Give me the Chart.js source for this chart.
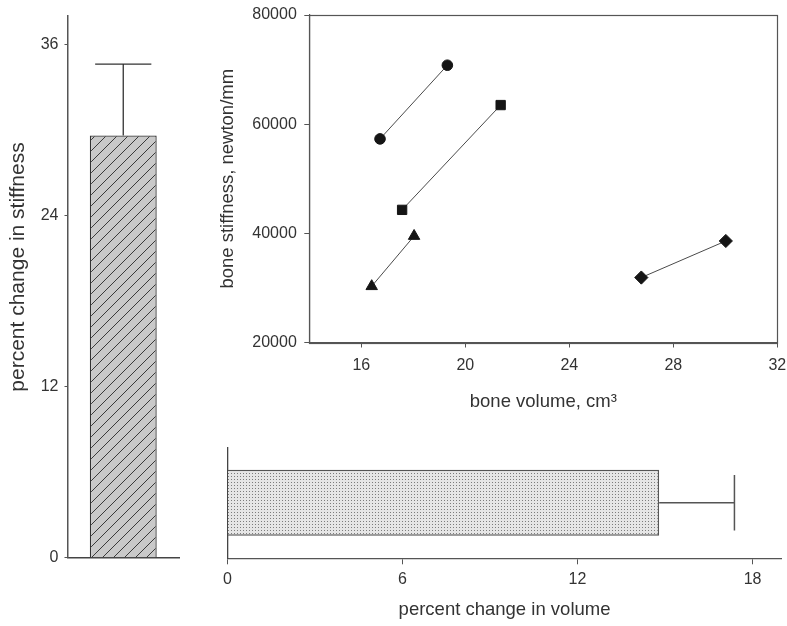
<!DOCTYPE html>
<html>
<head>
<meta charset="utf-8">
<script src="https://cdn.jsdelivr.net/npm/chart.js@4.4.1/dist/chart.umd.min.js"></script>
<style>
  html, body { margin: 0; padding: 0; background: #ffffff; }
  body { width: 787px; height: 626px; position: relative; overflow: hidden; }
  .box { position: absolute; }
</style>
</head>
<body>
<div class="box" id="boxLeft" style="left:0px;top:0px;width:200px;height:600px;"><canvas id="cLeft"></canvas></div>
<div class="box" id="boxScatter" style="left:200px;top:0px;width:587px;height:420px;"><canvas id="cScatter"></canvas></div>
<div class="box" id="boxBottom" style="left:200px;top:430px;width:587px;height:196px;"><canvas id="cBottom"></canvas></div>
<script>
// ---------------- data ----------------
const stiffnessCategories = ['stiffness'];
const stiffnessChange = [29.6];
const stiffnessError = [5.0];
const stiffnessTicks = [0, 12, 24, 36];

const volumeCategories = ['volume'];
const volumeChange = [14.8];
const volumeError = [2.58];
const volumeTicks = [0, 6, 12, 18];

const boneVolumeTicks = [16, 20, 24, 28, 32];
const boneStiffnessTicks = [20000, 40000, 60000, 80000];

const circleVolume = [16.72, 19.31];
const circleStiffness = [57300, 70800];
const squareVolume = [17.57, 21.36];
const squareStiffness = [44300, 63500];
const triangleVolume = [16.40, 18.03];
const triangleStiffness = [30300, 39500];
const diamondVolume = [26.77, 30.02];
const diamondStiffness = [31900, 38600];

// ---------------- styling ----------------
const FONT = "'Liberation Sans', Arial, Helvetica, sans-serif";
const AXIS = '#555555';
const INK = '#333333';
Chart.defaults.font.family = FONT;
Chart.defaults.color = INK;
Chart.defaults.animation = false;

function hatchPattern() {
  const c = document.createElement('canvas');
  c.width = 11; c.height = 11;
  const g = c.getContext('2d');
  g.fillStyle = '#c9c9c9';
  g.fillRect(0, 0, 11, 11);
  g.strokeStyle = '#3a3a3a';
  g.lineWidth = 1;
  g.beginPath();
  g.moveTo(-1, 12); g.lineTo(12, -1);
  g.moveTo(-12, 12); g.lineTo(1, -1);
  g.moveTo(10, 12); g.lineTo(23, -1);
  g.stroke();
  return g.createPattern(c, 'repeat');
}
function stipplePattern() {
  const c = document.createElement('canvas');
  c.width = 3; c.height = 3;
  const g = c.getContext('2d');
  g.fillStyle = '#e6e6e6';
  g.fillRect(0, 0, 3, 3);
  g.fillStyle = '#7d7d7d';
  g.fillRect(1, 1, 1, 1);
  return g.createPattern(c, 'repeat');
}

// error bar plugin: draws a one-sided error bar using the chart's scales
const errorBarPlugin = {
  id: 'errorBars',
  afterDatasetsDraw(chart, args, opts) {
    if (!opts || !opts.values) return;
    const ctx = chart.ctx;
    const meta = chart.getDatasetMeta(0);
    const horizontal = chart.options.indexAxis === 'y';
    const valScale = horizontal ? chart.scales.x : chart.scales.y;
    const data = chart.data.datasets[0].data;
    ctx.save();
    ctx.strokeStyle = opts.color || '#444';
    ctx.lineWidth = opts.width || 1.3;
    meta.data.forEach((bar, i) => {
      const v = data[i], e = opts.values[i];
      const p0 = valScale.getPixelForValue(v);
      const p1 = valScale.getPixelForValue(v + e);
      const props = bar.getProps(['x', 'y', 'width', 'height'], true);
      ctx.beginPath();
      if (horizontal) {
        const half = props.height * opts.cap;
        ctx.moveTo(p0, props.y); ctx.lineTo(p1, props.y);
        ctx.moveTo(p1, props.y - half); ctx.lineTo(p1, props.y + half);
      } else {
        const half = props.width * opts.cap;
        ctx.moveTo(props.x, p0); ctx.lineTo(props.x, p1);
        ctx.moveTo(props.x - half, p1); ctx.lineTo(props.x + half, p1);
      }
      ctx.stroke();
    });
    ctx.restore();
  }
};

// frame plugin for the scatter panel
const framePlugin = {
  id: 'frame',
  afterDraw(chart, args, opts) {
    if (!opts || !opts.show) return;
    const a = chart.chartArea;
    const ctx = chart.ctx;
    ctx.save();
    ctx.strokeStyle = AXIS;
    ctx.lineWidth = 1.2;
    ctx.strokeRect(Math.round(a.left) + 0.5, Math.round(a.top) + 0.5,
                   Math.round(a.right - a.left), Math.round(a.bottom - a.top));
    ctx.restore();
  }
};

// rotated side title for the left panel (centred at a chosen height)
const sideTitlePlugin = {
  id: 'sideTitle',
  afterDraw(chart, args, opts) {
    if (!opts || !opts.text) return;
    const ctx = chart.ctx;
    ctx.save();
    ctx.translate(opts.x, opts.y);
    ctx.rotate(-Math.PI / 2);
    ctx.font = opts.size + 'px ' + FONT;
    ctx.fillStyle = INK;
    ctx.textAlign = 'center';
    ctx.textBaseline = 'middle';
    ctx.fillText(opts.text, 0, 0);
    ctx.restore();
  }
};
Chart.register(errorBarPlugin, framePlugin, sideTitlePlugin);

function fixTicks(list) {
  return function (scale) { scale.ticks = list.map(v => ({ value: v })); };
}

// ---------------- left: percent change in stiffness ----------------
new Chart(document.getElementById('cLeft'), {
  type: 'bar',
  data: {
    labels: stiffnessCategories,
    datasets: [{
      data: stiffnessChange,
      backgroundColor: hatchPattern(),
      borderColor: '#333',
      borderWidth: 1.3,
      barPercentage: 0.6,
      categoryPercentage: 1.0
    }]
  },
  options: {
    responsive: true,
    maintainAspectRatio: false,
    layout: { padding: { top: 15, right: 21, bottom: 0, left: 0 } },
    plugins: {
      legend: { display: false },
      tooltip: { enabled: false },
      errorBars: { values: stiffnessError, cap: 0.42, color: '#333', width: 1.3 },
      frame: { show: false },
      sideTitle: { text: 'percent change in stiffness', x: 18.5, y: 267, size: 21 }
    },
    scales: {
      x: {
        ticks: { display: false },
        grid: { display: false },
        border: { display: true, color: '#444', width: 1.5 },
        afterFit(s) { s.height = 42.3; s.paddingLeft = 0; s.paddingRight = 0; }
      },
      y: {
        min: 0, max: 38,
        afterBuildTicks: fixTicks(stiffnessTicks),
        ticks: { font: { size: 16 }, color: INK, padding: 6 },
        grid: { drawOnChartArea: false, drawTicks: true, tickLength: 3, color: AXIS },
        border: { display: true, color: AXIS, width: 1.5 },
        afterFit(s) { s.width = 67.5; }
      }
    }
  }
});

// ---------------- scatter: bone stiffness vs bone volume ----------------
const markerInk = '#151515';
function series(xs, ys, style, radius) {
  return {
    data: xs.map((x, i) => ({ x: x, y: ys[i] })),
    showLine: true,
    borderColor: '#4a4a4a',
    borderWidth: 1,
    pointStyle: style,
    pointRadius: radius,
    pointBackgroundColor: markerInk,
    pointBorderColor: markerInk,
    pointBorderWidth: 1
  };
}
new Chart(document.getElementById('cScatter'), {
  type: 'scatter',
  data: {
    datasets: [
      series(circleVolume, circleStiffness, 'circle', 5.3),
      series(squareVolume, squareStiffness, 'rect', 6.6),
      series(triangleVolume, triangleStiffness, 'triangle', 6.6),
      series(diamondVolume, diamondStiffness, 'rectRot', 6.6)
    ]
  },
  options: {
    responsive: true,
    maintainAspectRatio: false,
    layout: { padding: { top: 15, right: 9.7, bottom: 0, left: 0 } },
    plugins: {
      legend: { display: false },
      tooltip: { enabled: false },
      frame: { show: true }
    },
    scales: {
      x: {
        type: 'linear',
        min: 14, max: 32,
        afterBuildTicks: fixTicks(boneVolumeTicks),
        ticks: { font: { size: 16 }, color: INK, padding: 8 },
        grid: { drawOnChartArea: false, drawTicks: true, tickLength: 5, color: AXIS },
        border: { display: true, color: AXIS, width: 1.2 },
        title: { display: true, text: 'bone volume, cm³', font: { size: 18.5 }, color: INK, padding: { top: 0, bottom: 7 } },
        afterFit(s) { s.height = 77.5; s.paddingLeft = 0; s.paddingRight = 0; }
      },
      y: {
        type: 'linear',
        min: 20000, max: 80000,
        afterBuildTicks: fixTicks(boneStiffnessTicks),
        ticks: { font: { size: 16 }, color: INK, padding: 7.5, callback: v => String(v) },
        grid: { drawOnChartArea: false, drawTicks: true, tickLength: 5, color: AXIS },
        border: { display: true, color: AXIS, width: 1.2 },
        title: { display: true, text: 'bone stiffness, newton/mm', font: { size: 18.5 }, color: INK, padding: { top: 17, bottom: 0 } },
        afterFit(s) { s.width = 109.3; s.paddingTop = 0; s.paddingBottom = 0; }
      }
    }
  }
});

// ---------------- bottom: percent change in volume ----------------
new Chart(document.getElementById('cBottom'), {
  type: 'bar',
  data: {
    labels: volumeCategories,
    datasets: [{
      data: volumeChange,
      backgroundColor: stipplePattern(),
      borderColor: '#555',
      borderWidth: 1.5,
      barPercentage: 0.595,
      categoryPercentage: 1.0
    }]
  },
  options: {
    indexAxis: 'y',
    responsive: true,
    maintainAspectRatio: false,
    layout: { padding: { top: 17.3, right: 5.3, bottom: 0, left: 0 } },
    plugins: {
      legend: { display: false },
      tooltip: { enabled: false },
      errorBars: { values: volumeError, cap: 0.42, color: '#555', width: 1.5 },
      frame: { show: false }
    },
    scales: {
      x: {
        type: 'linear',
        min: 0, max: 19,
        afterBuildTicks: fixTicks(volumeTicks),
        ticks: { font: { size: 16 }, color: INK, padding: 6 },
        grid: { drawOnChartArea: false, drawTicks: true, tickLength: 6, color: AXIS },
        border: { display: true, color: AXIS, width: 1.3 },
        title: { display: true, text: 'percent change in volume', font: { size: 18.5 }, color: INK, padding: { top: 0, bottom: 5 } },
        afterFit(s) { s.height = 67.7; s.paddingLeft = 0; s.paddingRight = 0; }
      },
      y: {
        ticks: { display: false },
        grid: { display: false },
        border: { display: true, color: '#444', width: 1.3 },
        afterFit(s) { s.width = 27.4; }
      }
    }
  }
});
</script>
</body>
</html>
